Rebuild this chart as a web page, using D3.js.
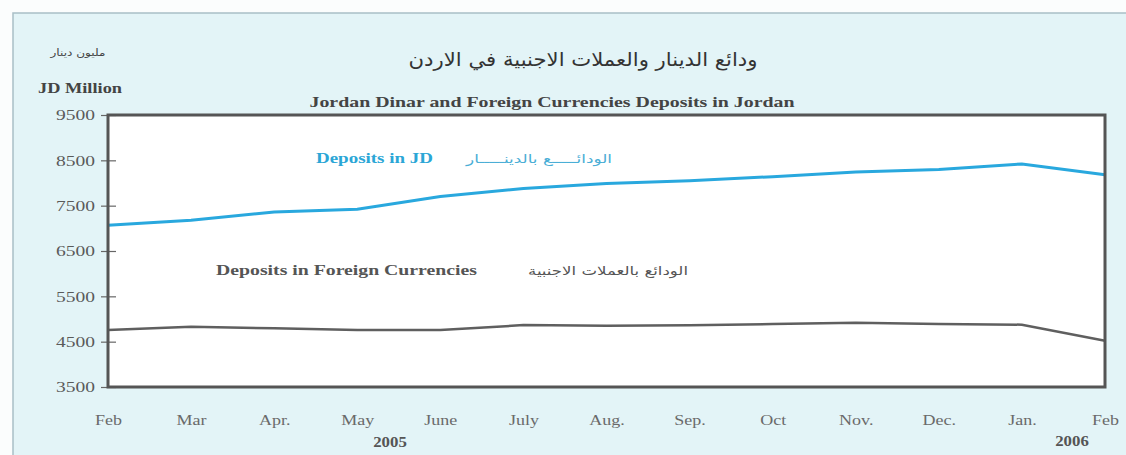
<!DOCTYPE html>
<html>
<head>
<meta charset="utf-8">
<script src="https://cdn.jsdelivr.net/npm/d3@7"></script>
<style>
  html, body { margin: 0; padding: 0; background: #fbfdfd; }
  svg { display: block; }
</style>
</head>
<body>
<div id="chart"></div>
<script>
// months along the x axis (Feb 2005 .. Feb 2006)
const months = ["Feb", "Mar", "Apr.", "May", "June", "July", "Aug.", "Sep.", "Oct", "Nov.", "Dec.", "Jan.", "Feb"];
// JD million
const jdDeposits = [7070, 7180, 7360, 7420, 7700, 7880, 7990, 8050, 8140, 8240, 8300, 8420, 8180];
const fcDeposits = [4760, 4830, 4795, 4760, 4760, 4865, 4850, 4860, 4890, 4920, 4890, 4875, 4520];
const yTicks = [3500, 4500, 5500, 6500, 7500, 8500, 9500];

const width = 1126, height = 455;
const margin = { top: 115, right: 20, bottom: 68, left: 108 };
const plotRight = 1105;

const serif = "'Liberation Serif', 'Times New Roman', serif";
const arabic = "'DejaVu Sans', sans-serif";

// the scanned original is a bit wide, so text is stretched sideways
function stretch(sel, k) {
  sel.each(function () {
    const w = this.getComputedTextLength();
    d3.select(this).attr("textLength", w * k).attr("lengthAdjust", "spacingAndGlyphs");
  });
}
function fitTo(sel, w) {
  sel.attr("textLength", w).attr("lengthAdjust", "spacingAndGlyphs");
}

const svg = d3.select("#chart").append("svg")
  .attr("width", width)
  .attr("height", height);

// light cyan panel
svg.append("rect")
  .attr("x", 13).attr("y", 13)
  .attr("width", width).attr("height", height)
  .attr("fill", "#e3f4f7")
  .attr("stroke", "#a9bec6")
  .attr("stroke-width", 1.5);

const x = d3.scalePoint()
  .domain(d3.range(months.length))
  .range([margin.left, plotRight]);

const y = d3.scaleLinear()
  .domain([3500, 9500])
  .range([height - margin.bottom, margin.top]);

// plot area
svg.append("rect")
  .attr("x", margin.left)
  .attr("y", margin.top)
  .attr("width", plotRight - margin.left)
  .attr("height", y(3500) - y(9500))
  .attr("fill", "#ffffff");

// y axis
const yAxis = svg.append("g")
  .attr("transform", `translate(${margin.left},0)`)
  .call(d3.axisLeft(y).tickValues(yTicks).tickSize(7).tickPadding(6).tickFormat(d3.format("d")));
yAxis.select(".domain").remove();
yAxis.selectAll(".tick line").attr("x1", 8).attr("stroke", "#666").attr("stroke-width", 1.2);
yAxis.selectAll(".tick text")
  .attr("font-family", serif)
  .attr("font-size", 15)
  .attr("fill", "#5a5a5a")
  .call(stretch, 1.3);

// x axis labels
const xAxis = svg.append("g")
  .attr("transform", `translate(0,${y(3500)})`)
  .call(d3.axisBottom(x).tickSize(0).tickPadding(27).tickFormat(i => months[i]));
xAxis.select(".domain").remove();
xAxis.selectAll(".tick text")
  .attr("font-family", serif)
  .attr("font-size", 15)
  .attr("fill", "#6a6a6a")
  .call(stretch, 1.2);

// year labels
svg.append("text")
  .attr("x", 390).attr("y", 447)
  .attr("text-anchor", "middle")
  .attr("font-family", serif).attr("font-weight", "bold")
  .attr("font-size", 14).attr("fill", "#555")
  .text("2005")
  .call(stretch, 1.2);
svg.append("text")
  .attr("x", 1072).attr("y", 446)
  .attr("text-anchor", "middle")
  .attr("font-family", serif).attr("font-weight", "bold")
  .attr("font-size", 14).attr("fill", "#555")
  .text("2006")
  .call(stretch, 1.2);

// lines
const line = d3.line()
  .x((d, i) => x(i))
  .y(d => y(d));

svg.append("path")
  .datum(fcDeposits)
  .attr("fill", "none")
  .attr("stroke", "#5f5f5f")
  .attr("stroke-width", 2.5)
  .attr("d", line);

svg.append("path")
  .datum(jdDeposits)
  .attr("fill", "none")
  .attr("stroke", "#29a8de")
  .attr("stroke-width", 3)
  .attr("d", line);

// frame
svg.append("rect")
  .attr("x", margin.left)
  .attr("y", margin.top)
  .attr("width", plotRight - margin.left)
  .attr("height", y(3500) - y(9500))
  .attr("fill", "none")
  .attr("stroke", "#555")
  .attr("stroke-width", 3);

// titles
svg.append("text")
  .attr("x", 583).attr("y", 66)
  .attr("text-anchor", "middle")
  .attr("font-family", arabic)
  .attr("font-size", 19).attr("fill", "#333")
  .text("ودائع الدينار والعملات الاجنبية في الاردن")
  .call(fitTo, 349);

svg.append("text")
  .attr("x", 552).attr("y", 107)
  .attr("text-anchor", "middle")
  .attr("font-family", serif).attr("font-weight", "bold")
  .attr("font-size", 15).attr("fill", "#444")
  .text("Jordan Dinar and Foreign Currencies Deposits in Jordan")
  .call(fitTo, 485);

svg.append("text")
  .attr("x", 78).attr("y", 56)
  .attr("text-anchor", "middle")
  .attr("font-family", arabic)
  .attr("font-size", 10).attr("fill", "#444")
  .text("مليون دينار")
  .call(fitTo, 55);

svg.append("text")
  .attr("x", 80).attr("y", 93)
  .attr("text-anchor", "middle")
  .attr("font-family", serif).attr("font-weight", "bold")
  .attr("font-size", 15).attr("fill", "#444")
  .text("JD Million")
  .call(fitTo, 84);

// series labels
svg.append("text")
  .attr("x", 316).attr("y", 163)
  .attr("font-family", serif).attr("font-weight", "bold")
  .attr("font-size", 15).attr("fill", "#2ba6d6")
  .text("Deposits in JD")
  .call(fitTo, 117);
svg.append("text")
  .attr("x", 612).attr("y", 163)
  .attr("text-anchor", "end")
  .attr("font-family", arabic)
  .attr("font-size", 12).attr("fill", "#4aaed6")
  .text("الودائـــــع بالدينـــــار")
  .call(fitTo, 146);

svg.append("text")
  .attr("x", 216).attr("y", 275)
  .attr("font-family", serif).attr("font-weight", "bold")
  .attr("font-size", 15).attr("fill", "#555")
  .text("Deposits in Foreign Currencies")
  .call(fitTo, 261);
svg.append("text")
  .attr("x", 688).attr("y", 275)
  .attr("text-anchor", "end")
  .attr("font-family", arabic)
  .attr("font-size", 12).attr("fill", "#555")
  .text("الودائع بالعملات الاجنبية")
  .call(fitTo, 160);
</script>
</body>
</html>
